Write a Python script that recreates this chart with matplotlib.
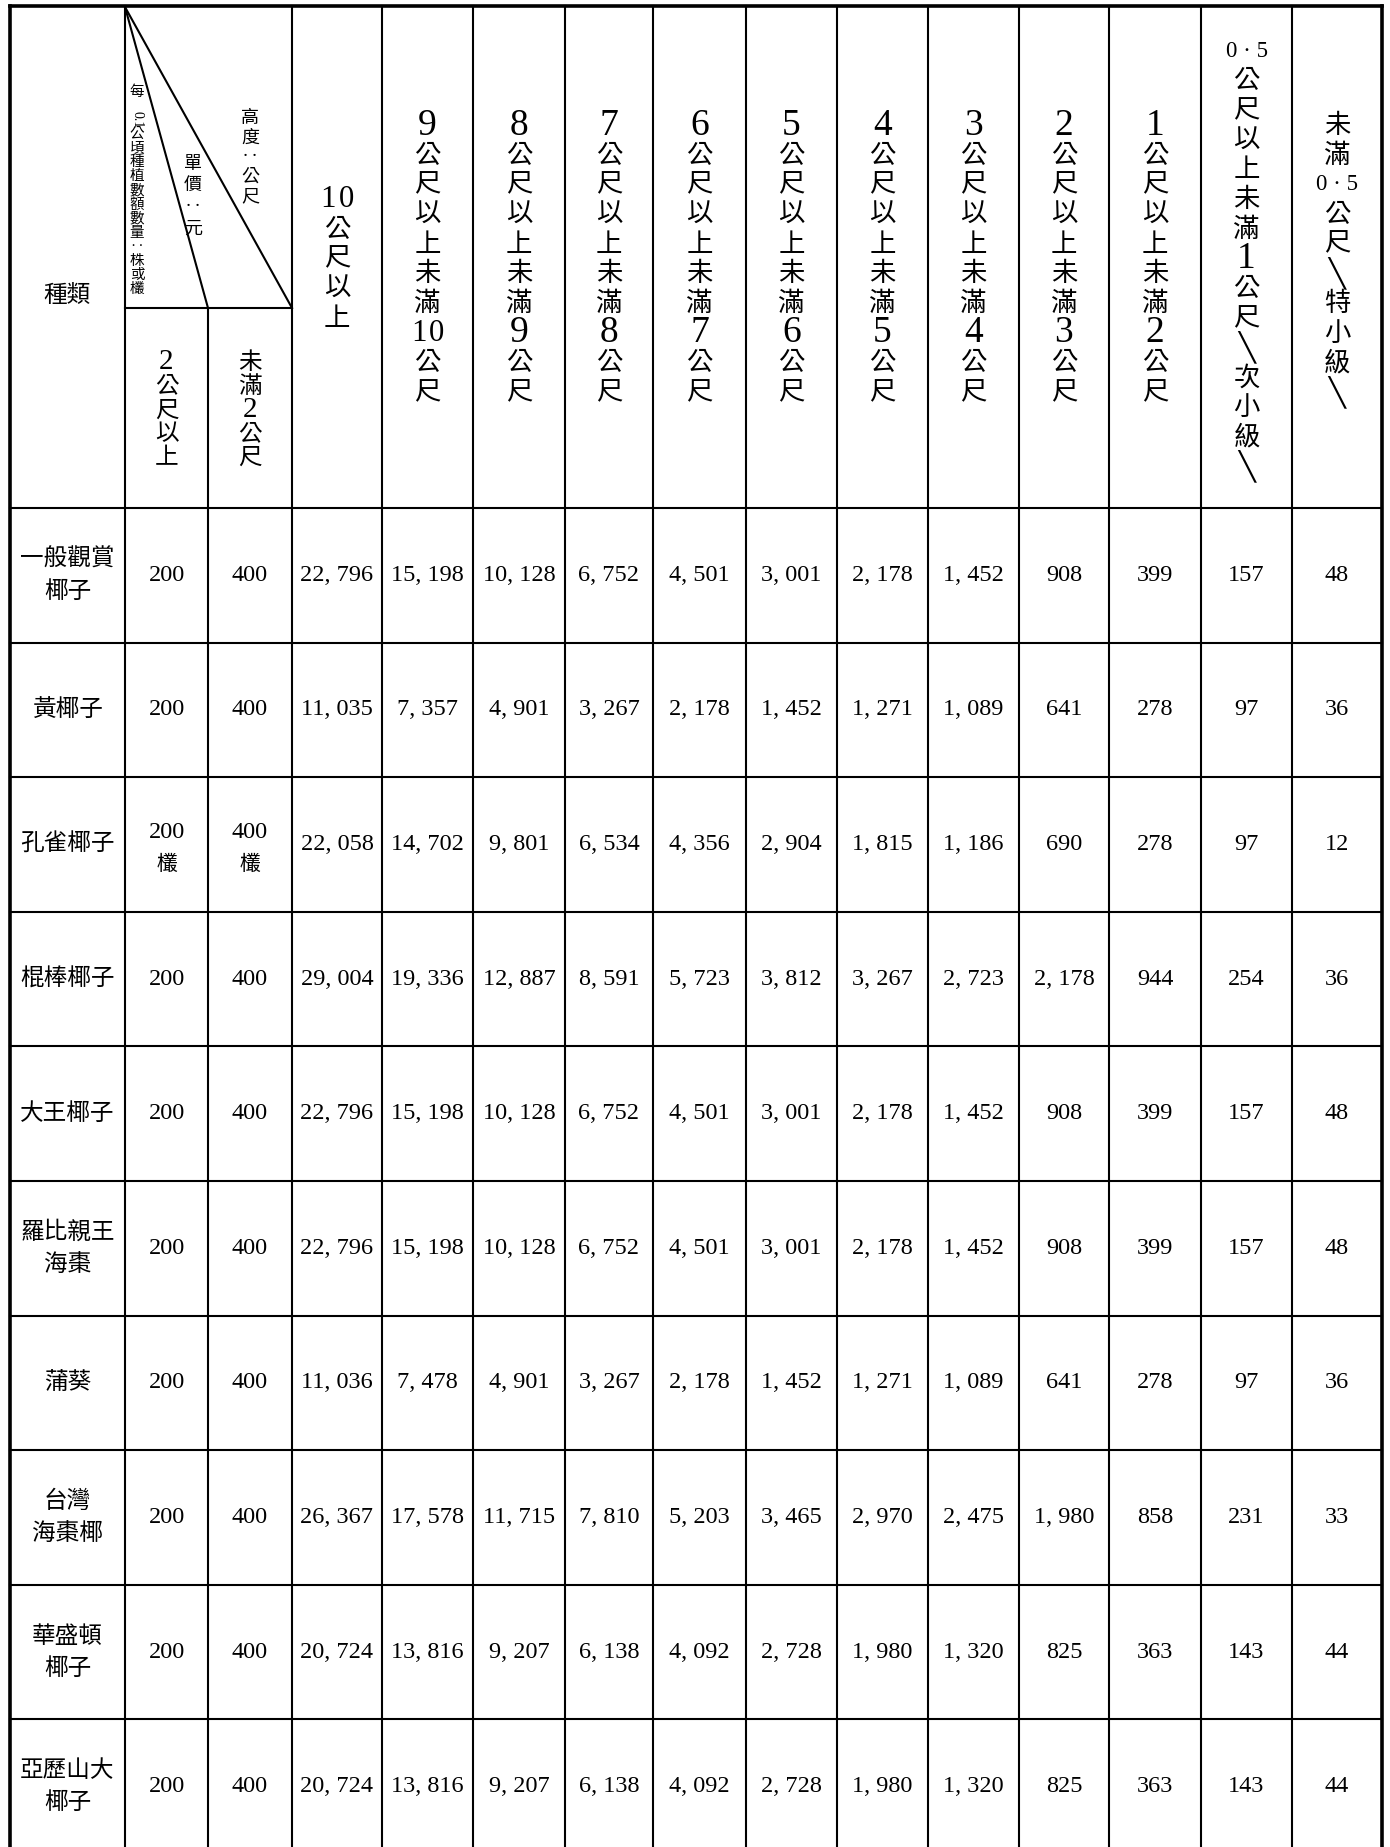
import matplotlib.pyplot as plt
from matplotlib import font_manager

# fonts
CJK = ['Noto Sans CJK TC', 'DejaVu Sans']
installed = {f.name for f in font_manager.fontManager.ttflist}
NUM = 'Liberation Sans Narrow' if 'Liberation Sans Narrow' in installed else 'Liberation Serif'
SERIF = 'Liberation Serif'
NUM_SIZE = 20 if NUM == 'Liberation Sans Narrow' else 17.5

# data
species = ['一般觀賞\n椰子', '黃椰子', '孔雀椰子', '棍棒椰子', '大王椰子',
           '羅比親王\n海棗', '蒲葵', '台灣\n海棗椰', '華盛頓\n椰子', '亞歷山大\n椰子']
count_tall = [200, 200, 200, 200, 200, 200, 200, 200, 200, 200]    # 2公尺以上
count_short = [400, 400, 400, 400, 400, 400, 400, 400, 400, 400]   # 未滿2公尺
count_unit = ['', '', '欉', '', '', '', '', '', '', '']

height_classes = [
    ['10', '公', '尺', '以', '上'],
    ['9', '公', '尺', '以', '上', '未', '滿', '10', '公', '尺'],
    ['8', '公', '尺', '以', '上', '未', '滿', '9', '公', '尺'],
    ['7', '公', '尺', '以', '上', '未', '滿', '8', '公', '尺'],
    ['6', '公', '尺', '以', '上', '未', '滿', '7', '公', '尺'],
    ['5', '公', '尺', '以', '上', '未', '滿', '6', '公', '尺'],
    ['4', '公', '尺', '以', '上', '未', '滿', '5', '公', '尺'],
    ['3', '公', '尺', '以', '上', '未', '滿', '4', '公', '尺'],
    ['2', '公', '尺', '以', '上', '未', '滿', '3', '公', '尺'],
    ['1', '公', '尺', '以', '上', '未', '滿', '2', '公', '尺'],
    ['0·5', '公', '尺', '以', '上', '未', '滿', '1', '公', '尺', '╲', '次', '小', '級', '╲'],
    ['未', '滿', '0·5', '公', '尺', '╲', '特', '小', '級', '╲'],
]

prices = [
    [22796, 15198, 10128, 6752, 4501, 3001, 2178, 1452, 908, 399, 157, 48],
    [11035, 7357, 4901, 3267, 2178, 1452, 1271, 1089, 641, 278, 97, 36],
    [22058, 14702, 9801, 6534, 4356, 2904, 1815, 1186, 690, 278, 97, 12],
    [29004, 19336, 12887, 8591, 5723, 3812, 3267, 2723, 2178, 944, 254, 36],
    [22796, 15198, 10128, 6752, 4501, 3001, 2178, 1452, 908, 399, 157, 48],
    [22796, 15198, 10128, 6752, 4501, 3001, 2178, 1452, 908, 399, 157, 48],
    [11036, 7478, 4901, 3267, 2178, 1452, 1271, 1089, 641, 278, 97, 36],
    [26367, 17578, 11715, 7810, 5203, 3465, 2970, 2475, 1980, 858, 231, 33],
    [20724, 13816, 9207, 6138, 4092, 2728, 1980, 1320, 825, 363, 143, 44],
    [20724, 13816, 9207, 6138, 4092, 2728, 1980, 1320, 825, 363, 143, 44],
]

# layout (pixels)
col_x = [10, 125, 208, 292, 382, 473, 565, 653, 746, 837, 928, 1019, 1109, 1201, 1292, 1382]
top, split, head_bot, row_h = 6, 308, 508, 134.6
row_y = [head_bot + i * row_h for i in range(len(species) + 1)]

fig = plt.figure(figsize=(13.9, 18.47), dpi=100)
ax = fig.add_axes([0, 0, 1, 1])
ax.set_xlim(0, 1390)
ax.set_ylim(1847, 0)
ax.axis('off')

thin, thick = 1.5, 2.6
ln = dict(color='black', solid_capstyle='projecting')

# outer frame
ax.plot([col_x[0], col_x[-1]], [top, top], lw=thick, **ln)
ax.plot([col_x[0], col_x[0]], [top, row_y[-1]], lw=thick, **ln)
ax.plot([col_x[-1], col_x[-1]], [top, row_y[-1]], lw=thick, **ln)
ax.plot([col_x[0], col_x[-1]], [row_y[-1], row_y[-1]], lw=thick, **ln)

# inner grid
for i, x in enumerate(col_x[1:-1], start=1):
    y0 = split if i == 2 else top
    ax.plot([x, x], [y0, row_y[-1]], lw=thin, **ln)
for y in row_y[:-1]:
    ax.plot([col_x[0], col_x[-1]], [y, y], lw=thin, **ln)
ax.plot([col_x[1], col_x[3]], [split, split], lw=thin, **ln)

# diagonal header lines
ax.plot([col_x[1], col_x[2]], [top + 1, split], lw=thin, color='black')
ax.plot([col_x[1], col_x[3]], [top + 1, split], lw=thin, color='black')


def cjk(x, y, s, size, **kw):
    ax.text(x, y, s, fontsize=size, family=CJK, ha='center', va='center', **kw)


def token(x, y, tok, size, dsize):
    if tok == '10':
        for dx, ch in ((-9, '1'), (9, '0')):
            ax.text(x + dx, y, ch, fontsize=dsize * 0.82, family=SERIF, ha='center', va='center')
    elif tok.isdigit():
        ax.text(x, y, tok, fontsize=dsize, family=SERIF, ha='center', va='center')
    elif tok == '0·5':
        ax.text(x, y, '0 · 5', fontsize=16.5, family=SERIF, ha='center', va='center')
    elif tok == '╲':
        ax.text(x, y, tok, fontsize=size + 1, family='DejaVu Sans', ha='center', va='center')
    else:
        cjk(x, y, tok, size)


def vstack(x, yc, tokens, pitch, size, dsize):
    n = len(tokens)
    for i, t in enumerate(tokens):
        token(x, yc + (i - (n - 1) / 2) * pitch, t, size, dsize)


# left header
cjk((col_x[0] + col_x[1]) / 2, 295, '種類', 17)
vstack(250, 157, ['高', '度', '‥', '公', '尺'], 19.7, 13, 13)
vstack(193, 196, ['單', '價', '‥', '元'], 21.5, 13, 13)

small = ['每', '0.1', '公', '頃', '種', '植', '數', '額', '數', '量', '‥', '株', '或', '欉']
yy = 92
for t in small:
    if t == '0.1':
        yy += 14
        ax.text(137, yy, t, fontsize=10, family=SERIF, rotation=-90, ha='center', va='center')
        yy += 14
    else:
        cjk(137, yy, t, 10.5)
        yy += 14.1

sub_mid = (split + head_bot) / 2 + 2
vstack((col_x[1] + col_x[2]) / 2, sub_mid, ['2', '公', '尺', '以', '上'], 23.8, 17, 21)
vstack((col_x[2] + col_x[3]) / 2, sub_mid, ['未', '滿', '2', '公', '尺'], 23.8, 17, 21)

# height class headers
for j, toks in enumerate(height_classes):
    xc = (col_x[j + 3] + col_x[j + 4]) / 2
    vstack(xc, 259, toks, 29.7, 19, 27)

# body
for r, name in enumerate(species):
    yc = (row_y[r] + row_y[r + 1]) / 2
    lines = name.split('\n')
    for k, line in enumerate(lines):
        cjk((col_x[0] + col_x[1]) / 2, yc + (k - (len(lines) - 1) / 2) * 32, line, 17)
    for c, v in enumerate([count_tall[r], count_short[r]]):
        xc = (col_x[c + 1] + col_x[c + 2]) / 2
        if count_unit[r]:
            ax.text(xc, yc - 12, str(v), fontsize=NUM_SIZE, family=NUM, ha='center', va='center')
            cjk(xc, yc + 19, count_unit[r], 15)
        else:
            ax.text(xc, yc, str(v), fontsize=NUM_SIZE, family=NUM, ha='center', va='center')
    for c, v in enumerate(prices[r]):
        xc = (col_x[c + 3] + col_x[c + 4]) / 2
        ax.text(xc, yc, f'{v:,}'.replace(',', ', '), fontsize=NUM_SIZE, family=NUM,
                ha='center', va='center')

fig.savefig('out.png', dpi=100)
